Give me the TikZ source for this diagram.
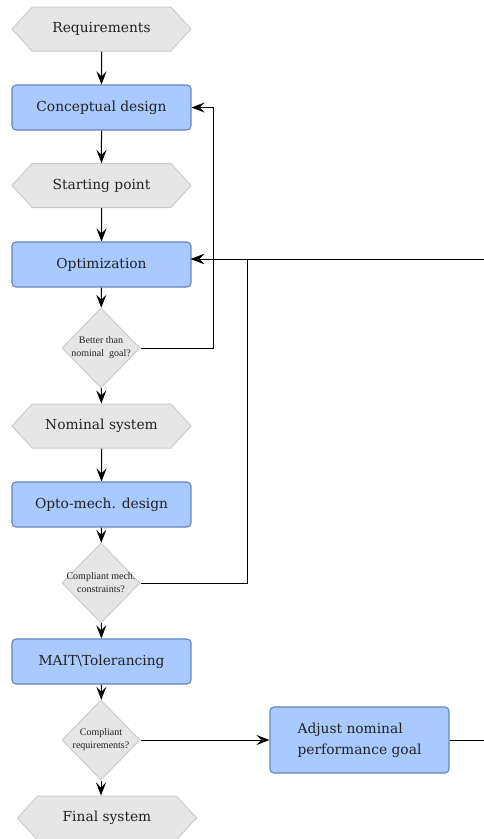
\documentclass[tikz,border=0pt]{standalone}
\usepackage{fontspec}
\setmainfont{DejaVu Serif}
\newfontfamily\diafont{Liberation Serif}
\usetikzlibrary{arrows.meta,shapes.geometric,shapes.symbols}

\definecolor{boxblue}{RGB}{169,201,255}
\definecolor{boxline}{RGB}{100,134,186}
\definecolor{hexgray}{RGB}{230,230,230}
\definecolor{hexline}{RGB}{204,204,204}
\definecolor{txt}{RGB}{34,34,34}

\begin{document}
\begin{tikzpicture}[x=1pt, y=-1pt, >={Stealth[length=13pt, width=10pt, inset=5pt]}]
  \tikzstyle{hex}=[shape=signal, signal to=west and east, signal pointer angle=95,
    draw=hexline, line width=1pt, fill=hexgray, minimum width=179pt,
    minimum height=44pt, inner sep=0pt, text=txt, font=\fontsize{13.8}{16}\selectfont]
  \tikzstyle{proc}=[rectangle, rounded corners=4pt, draw=boxline, line width=1.1pt,
    fill=boxblue, minimum width=179pt, minimum height=45pt, inner sep=0pt, text=txt,
    font=\fontsize{13.8}{16}\selectfont]
  \tikzstyle{decision}=[diamond, draw=hexline, line width=1pt, fill=hexgray,
    minimum width=78pt, minimum height=80pt, inner sep=-8pt, text=txt, align=center,
    font=\diafont\fontsize{10}{13}\selectfont]
  \tikzstyle{flow}=[->, line width=1pt, black]

  \useasboundingbox (0,0) rectangle (484,839);
  \clip (0,0) rectangle (484,839);

  \node[hex]      (req)     at (101.5, 29)    {Requirements};
  \node[proc]     (concept) at (101.5, 107.5) {Conceptual design};
  \node[hex]      (start)   at (101.5, 185.5) {Starting point};
  \node[proc]     (opt)     at (101.5, 264.5) {Optimization};
  \node[decision] (dec1)    at (101,   348)   {Better than\\nominal\ \ goal?};
  \node[hex]      (nominal) at (101.5, 426)   {Nominal system};
  \node[proc]     (opto)    at (101.5, 504.5) {Opto-mech. design};
  \node[decision] (dec2)    at (101,   583)   {Compliant mech.\\constraints?};
  \node[proc]     (mait)    at (101.5, 661.5) {MAIT\textbackslash Tolerancing};
  \node[decision] (dec3)    at (101,   740)   {Compliant\\requirements?};
  \node[hex]      (final)   at (107,   818)   {Final system};
  \node[proc, minimum height=66pt, align=left,
        font=\fontsize{13.8}{21}\selectfont]
                  (adjust)  at (359.5, 740)   {Adjust nominal\\performance goal};

  \coordinate (loop1) at (213, 107.5);
  \coordinate (loop2) at (247, 259);
  \coordinate (optin) at (191, 259);
  \coordinate (far)   at (500, 259);

  \draw[flow] (req) -- (concept);
  \draw[flow] (concept) -- (start);
  \draw[flow] (start) -- (opt);
  \draw[flow] (opt) -- (dec1);
  \draw[flow] (dec1) -- (nominal);
  \draw[flow] (nominal) -- (opto);
  \draw[flow] (opto) -- (dec2);
  \draw[flow] (dec2) -- (mait);
  \draw[flow] (mait) -- (dec3);
  \draw[flow] (dec3.south) -- (dec3.south |- final.north);
  \draw[flow] (dec3) -- (adjust);

  \draw[flow] (dec1.east) -| (loop1) -- (concept.east);
  \draw[flow] (dec2.east) -| (loop2) -- (optin);
  \draw[flow] (adjust.east) -| (far) -- (optin);
\end{tikzpicture}
\end{document}
